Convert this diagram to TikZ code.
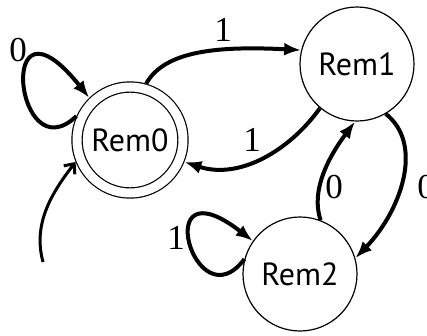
\documentclass[tikz,border=0pt]{standalone}
\usepackage{fontspec}
\setmainfont{Liberation Serif}
\setsansfont{PT Sans}
\usetikzlibrary{arrows.meta}
\tikzset{>={Latex[length=17pt,width=13pt]}}

\begin{document}
\begin{tikzpicture}[x=1pt, y=-1pt,
  state/.style={circle, draw, line width=1.2pt, minimum size=114pt,
    inner sep=0pt, font=\sffamily\fontsize{32}{32}\selectfont},
  final/.style={double, double distance=9pt, minimum size=106pt, outer sep=5.7pt},
  trans/.style={->, line width=4pt},
  lbl/.style={inner sep=0pt, font=\fontsize{35}{35}\selectfont}]
  \useasboundingbox (0,0) rectangle (427,335);

  \node[state, final] (rem0) at (130,140) {Rem0};
  \node[state] (rem1) at (357,64) {Rem1};
  \node[state] (rem2) at (300,274) {Rem2};
  \coordinate (start) at (43,262);

  %% loops
  \draw[trans] (rem0.156) .. controls (15,175) and (-5,-20) .. (rem0.134);
  \node[lbl] (l00) at (18,50) {0};
  \draw[trans] (rem2.165) .. controls (195,325) and (148,160) .. (rem2.145);
  \node[lbl] (l22) at (176,238) {1};

  %% between the states
  \draw[trans] (rem0.74) .. controls (165,50) and (220,46) .. (rem1.166);
  \node[lbl] (l01) at (223,30) {1};
  \draw[trans] (rem1.230) .. controls (290,150) and (240,180) .. (rem0.-22);
  \node[lbl] (l10) at (252,140) {1};
  \draw[trans] (rem2.69) .. controls (310,190) and (330,155) .. (rem1.268);
  \node[lbl] (l21) at (334,187) {0};
  \draw[trans] (rem1.-60) .. controls (425,145) and (400,212) .. (rem2.16);
  \node[lbl] (l12) at (426,187) {0};

  %% start arrow
  \draw[-{Straight Barb[length=8pt,width=14pt]}, line width=3pt] %%
  (start) .. controls (33,225) and (50,195) .. (rem0.202);
\end{tikzpicture}
\end{document}
